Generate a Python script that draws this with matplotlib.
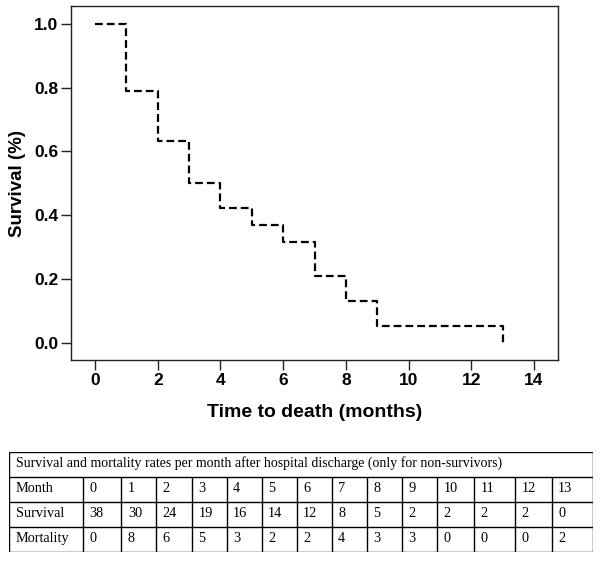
import matplotlib

matplotlib.use("Agg")
import matplotlib.pyplot as plt
import numpy as np

# table values (counts per month, non-survivors)
months = [0, 1, 2, 3, 4, 5, 6, 7, 8, 9, 10, 11, 12, 13]
survival = [38, 30, 24, 19, 16, 14, 12, 8, 5, 2, 2, 2, 2, 0]
mortality = [0, 8, 6, 5, 3, 2, 2, 4, 3, 3, 0, 0, 0, 2]
table_title = "Survival and mortality rates per month after hospital discharge (only for non-survivors)"
row_names = ["Month", "Survival", "Mortality"]

x_ticks = [0, 2, 4, 6, 8, 10, 12, 14]
y_ticks = [0.0, 0.2, 0.4, 0.6, 0.8, 1.0]

W, H = 600, 561
fig = plt.figure(figsize=(W / 100, H / 100), dpi=100)

# --- survival curve ---
ax = fig.add_axes([70.7 / W, 1 - 360.3 / H, (558.3 - 70.7) / W, (360.3 - 6) / H])
frac = np.array(survival) / survival[0]
ax.step(months, frac, where="post", color="black", lw=1.6, linestyle=(0, (3.5, 1.8)))
ax.set_xlim(-0.78, 14.78)
ax.set_ylim(-0.055, 1.056)
ax.set_xticks(x_ticks)
ax.set_yticks(y_ticks)
ax.set_yticklabels([f"{v:.1f}" for v in y_ticks])
for s in ax.spines.values():
    s.set_linewidth(1.0)
    s.set_color("#222222")
ax.tick_params(axis="both", direction="out", length=7, width=1.0, color="#222222",
               labelsize=12.5, pad=2)
for lab in ax.get_xticklabels() + ax.get_yticklabels():
    lab.set_fontweight("bold")
    lab.set_fontfamily("Liberation Sans")
ax.set_xlabel("Time to death (months)", fontsize=14, fontweight="bold",
              family="Liberation Sans", labelpad=12)
ax.set_ylabel("Survival (%)", fontsize=13.5, fontweight="bold",
              family="Liberation Sans", labelpad=6)

# --- table below (pixel layout of the grid) ---
col_edges = [9.3, 82.7, 121.3, 156, 192, 226.7, 261.7, 296.7, 331.7, 366.7,
             401.7, 437.3, 474.3, 515, 551.7, 593]
row_edges = [451.7, 476.7, 502.3, 527.3, 551.7]
tl, tr, tt, tb = col_edges[0], col_edges[-1], row_edges[0], row_edges[-1]
tax = fig.add_axes([tl / W, 1 - tb / H, (tr - tl) / W, (tb - tt) / H])
tax.set_xlim(tl, tr)
tax.set_ylim(tb, tt)
tax.axis("off")

lc = "black"
tax.hlines(row_edges, tl, tr, color=lc, lw=1.0)
tax.vlines([tl, tr], tt, tb, color=lc, lw=1.0)
tax.vlines(col_edges[1:-1], row_edges[1], tb, color=lc, lw=1.0)

tfont = dict(family="Liberation Serif", va="center", ha="left")
pad = 6.5
tax.text(tl + pad, (row_edges[0] + row_edges[1]) / 2 - 1, table_title, fontsize=10, **tfont)
rows = [months, survival, mortality]
for r, (name, vals) in enumerate(zip(row_names, rows)):
    y = (row_edges[r + 1] + row_edges[r + 2]) / 2 - 1
    tax.text(tl + pad, y, name, fontsize=10.3, **tfont)
    for i, v in enumerate(vals):
        tax.text(col_edges[i + 1] + pad, y, str(v), fontsize=10.3, **tfont)

fig.savefig("out.png", dpi=100)
